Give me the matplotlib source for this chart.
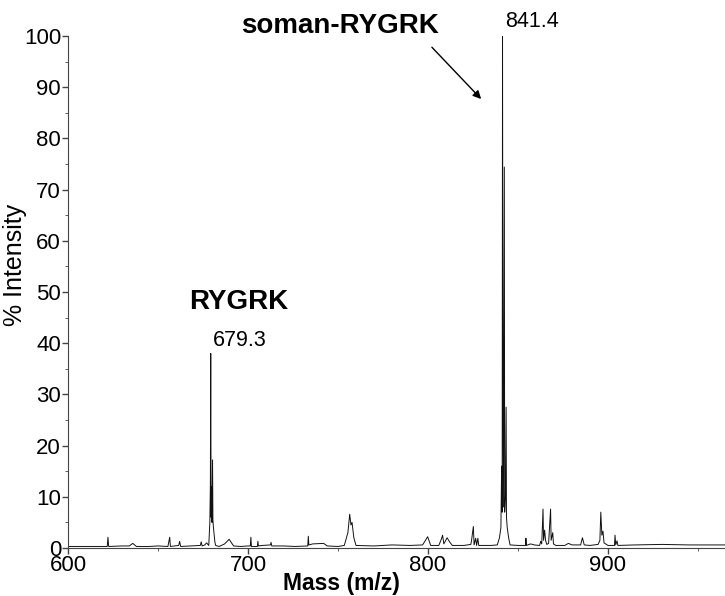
import numpy as np
import matplotlib
matplotlib.use("Agg")
import matplotlib.pyplot as plt
from matplotlib.ticker import MultipleLocator

## spectrum trace (m/z, % intensity)

trace_mz = [600, 610, 621.8, 622.2, 622.6, 630, 634, 636, 638, 645, 650,
            655.5, 656.5, 656.9, 661.5, 662, 662.6, 668, 673.5, 674, 674.5,
            676, 677, 678.2, 678.8, 679.1, 679.3, 679.5, 679.8, 680.0, 680.3,
            680.5, 680.8, 681.2, 681.6, 682, 684, 687, 689.5, 692, 696, 700,
            701.3, 701.6, 701.9, 703, 705.2, 705.5, 705.8, 708, 712.5, 712.8,
            713.2, 720, 726, 733.2, 733.5, 733.8, 736, 742, 744, 750, 753.5,
            755.5, 756.5, 757.2, 757.8, 758.8, 760, 770, 780, 790, 797, 799.8,
            801.5, 806, 807.5, 808.1, 808.8, 810.6, 812, 813.5, 820, 823.8,
            824.2, 825.2, 825.6, 826.5, 827, 827.7, 828.2, 835, 838.5, 839.7,
            840.5, 840.9, 841.2, 841.4, 841.6, 841.9, 842.4, 842.6, 843.0,
            843.4, 843.6, 844, 844.8, 845.6, 850, 854.2, 854.4, 854.7, 857,
            859, 862, 862.6, 863.2, 863.9, 864.2, 864.8, 865.3, 866, 867,
            868.1, 868.4, 869.3, 869.7, 871, 876, 878, 880, 884.8, 885.8,
            886.8, 890, 894.5, 895.5, 896, 896.6, 897.2, 897.8, 900, 903.6,
            903.9, 904.3, 905, 905.5, 915, 930, 945, 965]

trace_int = [0.3, 0.3, 0.3, 2.1, 0.3, 0.4, 0.4, 0.9, 0.3, 0.3, 0.4,
             0.3, 2.1, 0.3, 0.5, 1.3, 0.3, 0.4, 0.5, 1.2, 0.4,
             0.6, 1.0, 0.5, 5, 12.5, 38, 6, 12, 5, 17.2,
             5.5, 4, 2.5, 1.2, 0.5, 0.3, 0.8, 1.7, 0.4, 0.3, 0.4,
             0.4, 2.1, 0.3, 0.3, 0.3, 1.3, 0.4, 0.5, 0.6, 1.1,
             0.4, 0.4, 0.3, 0.4, 2.3, 0.6, 0.8, 0.9, 0.4, 0.3, 0.5,
             3, 6.6, 4.5, 5.0, 2, 0.5, 0.4, 0.6, 0.5, 0.6, 2.2,
             0.5, 0.5, 1.8, 2.5, 0.8, 2.0, 1.2, 0.5, 0.5, 0.7,
             1.5, 4.2, 0.6, 1.9, 0.5, 1.9, 0.5, 0.5, 0.6, 2,
             4, 16, 7, 100, 40, 8, 74.4, 7, 10,
             27.5, 6, 4, 2, 0.6, 0.5, 0.5, 1.9, 0.5, 0.8,
             0.6, 0.5, 1.3, 0.8, 7.6, 1.5, 3.5, 1.5, 0.7, 0.9,
             7.6, 1.5, 3, 0.8, 0.5, 0.5, 0.9, 0.6, 0.6, 2.0,
             0.6, 0.5, 0.7, 1.5, 7.0, 2.5, 3.3, 1, 0.5, 0.5,
             2.5, 0.6, 1.4, 0.5, 0.6, 0.7, 0.6, 0.6]

x_ticks = [600, 700, 800, 900]
y_ticks = [0, 10, 20, 30, 40, 50, 60, 70, 80, 90, 100]

plt.rcParams['font.family'] = ['Liberation Sans', 'DejaVu Sans']

fig = plt.figure(figsize=(7.25, 5.96), dpi=100)
ax = fig.add_axes([68 / 725, 48 / 596, 657 / 725, 512 / 596])

ax.plot(trace_mz, trace_int, color='#111111', lw=0.7)

ax.set_xlim(600, 965)
ax.set_ylim(0, 100)
ax.set_xticks(x_ticks)
ax.set_yticks(y_ticks)
ax.xaxis.set_minor_locator(MultipleLocator(50))
ax.yaxis.set_minor_locator(MultipleLocator(5))
ax.tick_params(axis='both', which='major', labelsize=16, length=4,
               color='#444444', width=1, pad=1)
ax.tick_params(axis='both', which='minor', length=2, color='#444444')

for side in ['top', 'right']:
    ax.spines[side].set_visible(False)
for side in ['left', 'bottom']:
    ax.spines[side].set_color('#444444')

ax.set_xlabel('Mass (m/z)', fontsize=16.5, fontweight='bold')
ax.xaxis.set_label_coords(0.4155, -0.046)
ax.set_ylabel('% Intensity', fontsize=18)
ax.yaxis.set_label_coords(-0.062, 0.553)

## peak labels

ax.text(751, 102, 'soman-RYGRK', fontsize=20, fontweight='bold',
        ha='center', va='center', clip_on=False)
ax.annotate('', xy=(830.6, 87.3), xytext=(801.1, 98.2),
            arrowprops=dict(arrowstyle='-|>', color='black', lw=1,
                            mutation_scale=12),
            annotation_clip=False)
ax.text(858, 102.9, '841.4', fontsize=15.5, ha='center', va='center',
        clip_on=False)
ax.text(695, 48, 'RYGRK', fontsize=20, fontweight='bold',
        ha='center', va='center')
ax.text(695.3, 40.6, '679.3', fontsize=15.5, ha='center', va='center')

fig.savefig('out.png', dpi=100)
